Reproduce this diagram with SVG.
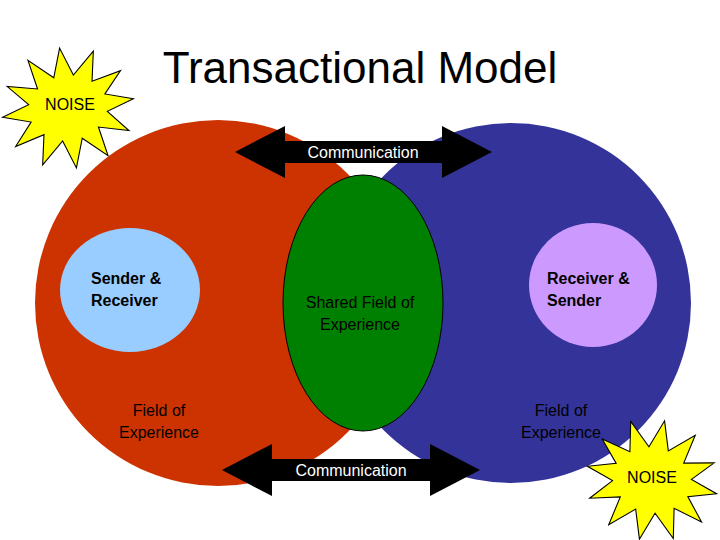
<svg xmlns="http://www.w3.org/2000/svg" width="720" height="540" viewBox="0 0 720 540">
<style>
text{font-family:"Liberation Sans",Arial,sans-serif;font-size:16px;fill:#000}
.b{font-weight:bold}
.star{fill:#ffff00;stroke:#000;stroke-width:1}
.arr{fill:#000}
</style>
<defs>
<polygon id="starShape" points="128,104 103,112 120,132 93,125 98,152 77,133 68,159 59,133 38,152 43,125 16,132 33,112 8,104 33,96 16,77 43,83 38,56 59,75 68,49 77,75 98,56 93,83 120,77 103,96"/>
</defs>
<rect width="720" height="540" fill="#fff"/>
<text x="360" y="83" text-anchor="middle" style="font-size:44px">Transactional Model</text>
<g id="noise1"><use href="#starShape" class="star" transform="translate(68 108) scale(1.1) rotate(-8) translate(-68 -104)"/><text x="70" y="110" text-anchor="middle">NOISE</text></g>
<g id="field-left"><circle cx="218" cy="303" r="183" fill="#cc3300"/></g>
<g id="field-right"><circle cx="511" cy="303" r="180" fill="#333399"/></g>
<g id="shared"><ellipse cx="363" cy="303" rx="80" ry="128" fill="#008000" stroke="#000" stroke-width="1"/>
<text x="360" y="308" text-anchor="middle">Shared Field of</text><text x="360" y="330" text-anchor="middle">Experience</text></g>
<g id="sender"><ellipse cx="130" cy="290" rx="70" ry="62" fill="#99ccff"/>
<text class="b" x="91" y="284">Sender &amp;</text><text class="b" x="91" y="306">Receiver</text></g>
<g id="receiver"><ellipse cx="593" cy="285" rx="64" ry="62" fill="#cc99ff"/>
<text class="b" x="547" y="284">Receiver &amp;</text><text class="b" x="547" y="306">Sender</text></g>
<text x="159" y="416" text-anchor="middle">Field of</text><text x="159" y="438" text-anchor="middle">Experience</text>
<text x="561" y="416" text-anchor="middle">Field of</text><text x="561" y="438" text-anchor="middle">Experience</text>
<g id="connectors">
<polygon class="arr" points="235,152 285,126 285,141 442,141 442,126 492,152 442,178 442,163 285,163 285,178"/>
<text x="363" y="158" text-anchor="middle" style="fill:#fff">Communication</text>
<polygon class="arr" points="222,470 272,444 272,459 430,459 430,444 480,470 430,496 430,481 272,481 272,496"/>
<text x="351" y="476" text-anchor="middle" style="fill:#fff">Communication</text>
</g>
<g id="noise2"><use href="#starShape" class="star" transform="translate(652 480) scale(1.1) rotate(12) translate(-68 -104)"/><text x="652" y="483" text-anchor="middle">NOISE</text></g>
</svg>
